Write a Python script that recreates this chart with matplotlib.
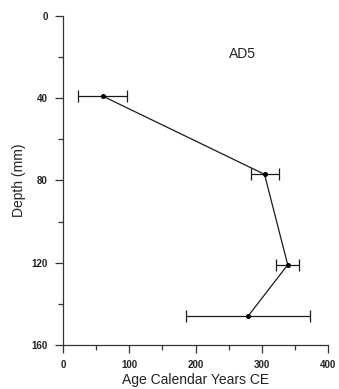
import matplotlib.pyplot as plt
from matplotlib.ticker import MultipleLocator

plt.rcParams['font.family'] = ['Liberation Sans', 'DejaVu Sans']

# AD5 age model: depth vs calibrated age with 2-sided uncertainty
depth = [39, 77, 121, 146]
age = [60, 304, 339, 279]
age_lo = [22, 283, 321, 186]
age_hi = [97, 326, 356, 373]

xerr = [[a - lo for a, lo in zip(age, age_lo)],
        [hi - a for a, hi in zip(age, age_hi)]]

fig = plt.figure(figsize=(3.39, 3.89), dpi=100)
ax = fig.add_axes([0.186, 0.113, 0.782, 0.846])

ax.errorbar(age, depth, xerr=xerr, color='#1a1a1a', lw=0.9, elinewidth=0.9,
            capsize=4.5, capthick=0.9, marker='o', ms=2.6, mfc='black', mec='black')

ax.set_xlim(0, 400)
ax.set_ylim(160, 0)
ax.xaxis.set_major_locator(MultipleLocator(100))
ax.xaxis.set_minor_locator(MultipleLocator(50))
ax.yaxis.set_major_locator(MultipleLocator(40))
ax.yaxis.set_minor_locator(MultipleLocator(20))

for s in ['top', 'right']:
    ax.spines[s].set_visible(False)
for s in ['left', 'bottom']:
    ax.spines[s].set_linewidth(0.9)
    ax.spines[s].set_color('#333333')

ax.tick_params(which='major', length=6, width=0.9, color='#333333',
               labelsize=7, pad=5, labelcolor='#222222')
ax.tick_params(which='minor', length=3.5, width=0.9, color='#333333')
for lbl in ax.get_xticklabels() + ax.get_yticklabels():
    lbl.set_fontweight('bold')

ax.set_xlabel('Age Calendar Years CE', fontsize=10, labelpad=2, color='#222222')
ax.set_ylabel('Depth (mm)', fontsize=10, labelpad=4, color='#222222')
ax.text(270, 18.5, 'AD5', fontsize=10, ha='center', va='center', color='#222222')

fig.savefig('out.png', dpi=100)
